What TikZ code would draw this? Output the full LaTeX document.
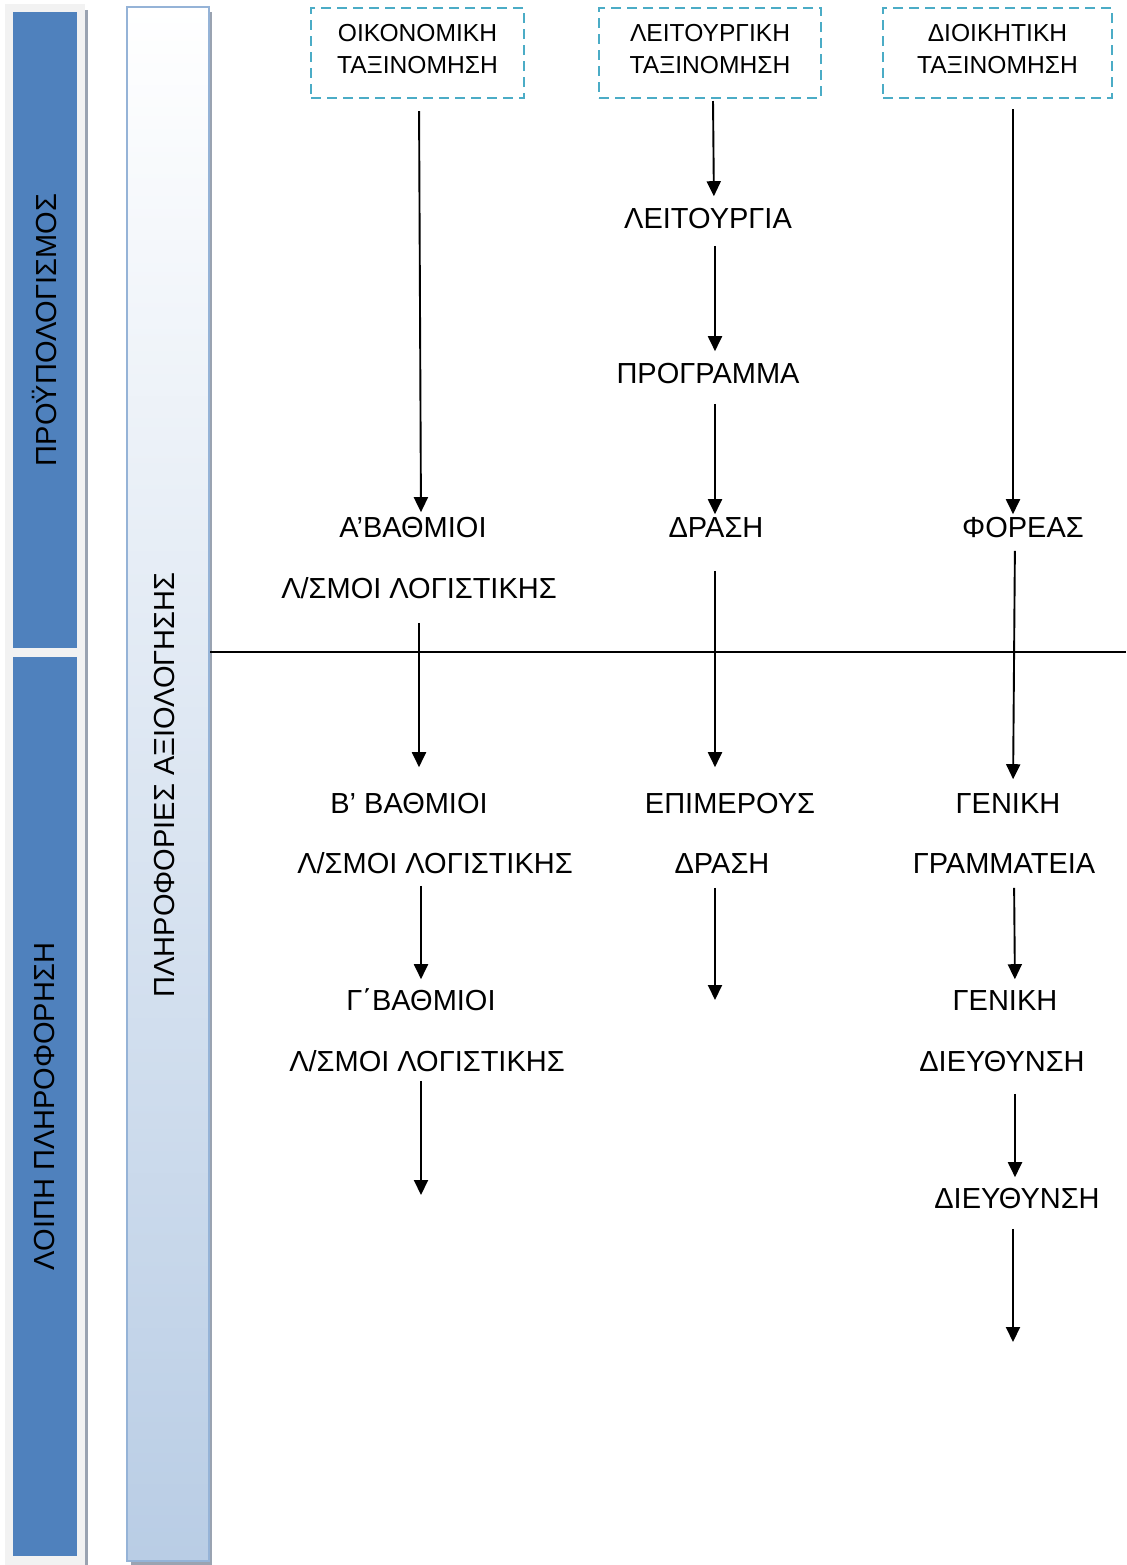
\documentclass[tikz,border=0pt]{standalone}
\usepackage{fontspec}
\setmainfont{Liberation Sans}
\usetikzlibrary{arrows.meta,positioning,calc}
\definecolor{barblue}{HTML}{4F81BD}
\definecolor{paleblue}{HTML}{B9CDE5}
\definecolor{edgeblue}{HTML}{95B3D7}
\definecolor{dashteal}{HTML}{4BACC6}
\definecolor{panelgray}{HTML}{F2F2F2}
\definecolor{shadowgray}{HTML}{9AA3B1}
\newcommand{\lowpad}{\rule[-4pt]{0pt}{4pt}}
\tikzset{
  lbl/.style={rectangle, inner sep=0pt, text height=10.4pt, text depth=0pt, font=\fontsize{14.5}{17}\selectfont},
  classbox/.style={rectangle, draw=dashteal, line width=1pt, dash pattern=on 5pt off 3pt, align=center, minimum height=45pt, font=\fontsize{12.3}{16}\selectfont},
  link/.style={-{Triangle[length=7.5pt,width=7pt]}, line width=0.95pt},
  sidetext/.style={rotate=90, font=\fontsize{14.5}{17}\selectfont}
}
\begin{document}
\begin{tikzpicture}[x=0.5pt,y=-0.5pt]
\useasboundingbox (0,0) rectangle (1126,1565);
% side bars
\fill[panelgray] (5,4) rectangle (85,1565);
\fill[shadowgray] (85,10) rectangle (88,1565);
\node[rectangle, fill=barblue, minimum width=32pt, minimum height=318pt] (budget) at (45,330) {};
\node[rectangle, fill=barblue, minimum width=32pt, minimum height=449.5pt] (otherinfo) at (45,1106.5) {};
\node[sidetext] at (budget) {ΠΡΟΫΠΟΛΟΓΙΣΜΟΣ};
\node[sidetext] at (otherinfo) {ΛΟΙΠΗ ΠΛΗΡΟΦΟΡΗΣΗ};
\fill[shadowgray] (131,12) rectangle (212,1565);
\node[rectangle, draw=edgeblue, line width=1pt, top color=white, bottom color=paleblue, minimum width=41pt, minimum height=777pt] (evalinfo) at (168,784) {};
\node[sidetext] at (165,785) {ΠΛΗΡΟΦΟΡΙΕΣ ΑΞΙΟΛΟΓΗΣΗΣ};
\coordinate (split) at (1126,652);
\draw[line width=0.75pt] (evalinfo.east |- split) -- (split);

% classification boxes
\node[classbox, minimum width=106.5pt] (econ) at (417.5,53) {ΟΙΚΟΝΟΜΙΚΗ\\ΤΑΞΙΝΟΜΗΣΗ\lowpad};
\node[classbox, minimum width=111pt] (func) at (710,53) {ΛΕΙΤΟΥΡΓΙΚΗ\\ΤΑΞΙΝΟΜΗΣΗ\lowpad};
\node[classbox, minimum width=114.5pt] (admin) at (997.5,53) {ΔΙΟΙΚΗΤΙΚΗ\\ΤΑΞΙΝΟΜΗΣΗ\lowpad};

% labels
\node[lbl] (abathm) at (413,527) {Α’ΒΑΘΜΙΟΙ};
\node[lbl] (alsm) at (419,588) {Λ/ΣΜΟΙ ΛΟΓΙΣΤΙΚΗΣ};
\node[lbl] (leit) at (708,218) {ΛΕΙΤΟΥΡΓΙΑ};
\node[lbl] (progr) at (708,373) {ΠΡΟΓΡΑΜΜΑ};
\node[lbl] (drasi) at (716,527) {ΔΡΑΣΗ};
\node[lbl] (foreas) at (1023,527) {ΦΟΡΕΑΣ};
\node[lbl] (bbathm) at (409,803) {Β’ ΒΑΘΜΙΟΙ};
\node[lbl] (blsm) at (435,863) {Λ/ΣΜΟΙ ΛΟΓΙΣΤΙΚΗΣ};
\node[lbl] (epim) at (730,803) {ΕΠΙΜΕΡΟΥΣ};
\node[lbl] (epimdr) at (722,863) {ΔΡΑΣΗ};
\node[lbl] (gengr) at (1008,803) {ΓΕΝΙΚΗ};
\node[lbl] (gramm) at (1004,863) {ΓΡΑΜΜΑΤΕΙΑ};
\node[lbl] (gbathm) at (421,1000) {Γ΄ΒΑΘΜΙΟΙ};
\node[lbl] (glsm) at (427,1061) {Λ/ΣΜΟΙ ΛΟΓΙΣΤΙΚΗΣ};
\node[lbl] (gendi) at (1005,1000) {ΓΕΝΙΚΗ};
\node[lbl] (gendieu) at (1002,1061) {ΔΙΕΥΘΥΝΣΗ};
\node[lbl] (dieu) at (1017,1198) {ΔΙΕΥΘΥΝΣΗ};
\coordinate (drend) at (715,1000);
\coordinate (glend) at (421,1195);
\coordinate (diend) at (1013,1342);

% arrows
\draw[link, shorten <=6pt, shorten >=2pt] ([xshift=0.75pt]econ.south) -- ([xshift=4pt]abathm.north);
\draw[link, shorten <=1pt, shorten >=5.5pt] ([xshift=1.5pt]func.south) -- ([xshift=3pt]leit.north);
\draw[link, shorten <=8.5pt, shorten >=5.5pt] ([xshift=3.5pt]leit.south) -- ([xshift=3.5pt]progr.north);
\draw[link, shorten <=10pt, shorten >=1pt] ([xshift=3.5pt]progr.south) -- ([xshift=-0.5pt]drasi.north);
\draw[link, shorten <=5pt, shorten >=1pt] ([xshift=7.75pt]admin.south) -- ([xshift=-5pt]foreas.north);
\draw[link, shorten <=12pt, shorten >=12.5pt] (alsm.south) -- ([xshift=5pt]bbathm.north);
\draw[link, shorten <=16.5pt, shorten >=12.5pt] ([xshift=-0.5pt]drasi.south) -- ([xshift=-7.5pt]epim.north);
\draw[link, shorten <=6.5pt, shorten >=6.5pt] ([xshift=-4pt]foreas.south) -- ([xshift=2.5pt]gengr.north);
\draw[link, shorten <=6pt, shorten >=5pt] ([xshift=-7pt]blsm.south) -- (gbathm.north);
\draw[link, shorten <=7pt] ([xshift=-3.5pt]epimdr.south) -- (drend);
\draw[link, shorten <=7pt, shorten >=5pt] ([xshift=5pt]gramm.south) -- ([xshift=5pt]gendi.north);
\draw[link, shorten <=4.5pt] ([xshift=-3pt]glsm.south) -- (glend);
\draw[link, shorten <=11pt, shorten >=5pt] ([xshift=6.5pt]gendieu.south) -- ([xshift=-1pt]dieu.north);
\draw[link, shorten <=10pt] ([xshift=-2pt]dieu.south) -- (diend);
\end{tikzpicture}
\end{document}
